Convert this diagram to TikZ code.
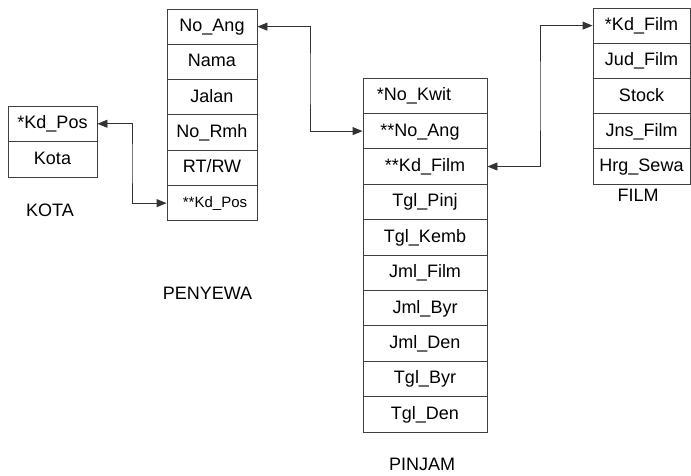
\documentclass[tikz,border=0pt]{standalone}
\usepackage{fontspec}
\setmainfont{Liberation Sans}
\usetikzlibrary{arrows.meta,calc}
\begin{document}
\begin{tikzpicture}[x=1pt,y=-1pt,
  cell/.style={draw=black!75, line width=0.9pt, inner sep=0pt, minimum height=#1,
    text height=12.5pt, text depth=2.5pt, font=\fontsize{18}{20}\selectfont},
  cell/.default=35.4pt,
  small/.style={font=\fontsize{15}{17}\selectfont, text height=11pt, text depth=2pt},
  lbl/.style={inner sep=0pt, font=\fontsize{18}{20}\selectfont},
  conn/.style={draw=black!80, line width=0.9pt, {Triangle[length=10pt,width=8pt]}-{Triangle[length=10pt,width=8pt]}}
]
\useasboundingbox (0,0) rectangle (691,475);

% KOTA
\foreach \t [count=\i] in {*Kd\_Pos,Kota}{
  \node[cell=35.5pt, minimum width=89pt] (k\i) at (52.5,{106+35.5*(\i-0.5)}) {\t};
}
\node[lbl] (klbl) at (50,210) {KOTA};

% PENYEWA
\foreach \t [count=\i] in {No\_Ang,Nama,Jalan,No\_Rmh,RT/RW}{
  \node[cell=35.3pt, minimum width=90pt] (p\i) at (212,{9+35.3*(\i-0.5)}) {\t};
}
\node[cell=35.3pt, minimum width=90pt, small] (p6) at (212,{9+35.3*5.5}) {\hspace*{6pt}**Kd\_Pos};
\node[lbl] (plbl) at (207.5,293) {PENYEWA};

% PINJAM
\node[cell, minimum width=124pt] (j1) at (425,{78+35.4*0.5}) {\hspace*{-22pt}*No\_Kwit};
\node[cell, minimum width=124pt] (j2) at (425,{78+35.4*1.5}) {\hspace*{-10pt}**No\_Ang};
\foreach \t [count=\i from 3] in {**Kd\_Film,Tgl\_Pinj,Tgl\_Kemb,Jml\_Film,Jml\_Byr,Jml\_Den,Tgl\_Byr,Tgl\_Den}{
  \node[cell, minimum width=124pt] (j\i) at (425,{78+35.4*(\i-0.5)}) {\t};
}
\node[lbl] (jlbl) at (422,464) {PINJAM};

% FILM
\foreach \t [count=\i] in {*Kd\_Film,Jud\_Film,Stock,Jns\_Film,Hrg\_Sewa}{
  \node[cell=35.2pt, minimum width=97pt] (f\i) at (641.5,{8+35.2*(\i-0.5)}) {\t};
}
\node[lbl] (flbl) at (638,195) {FILM};

% connectors
\draw[conn] (p1.east) -| ($(p1.east)!.5!(j2.west)$) |- (j2.west);
\draw[conn] (k1.east) -| ($(k1.east)!.5!(p6.west)$) |- (p6.west);
\draw[conn] (j3.east) -| ($(j3.east)!.5!(f1.west)$) |- (f1.west);
\end{tikzpicture}
\end{document}
